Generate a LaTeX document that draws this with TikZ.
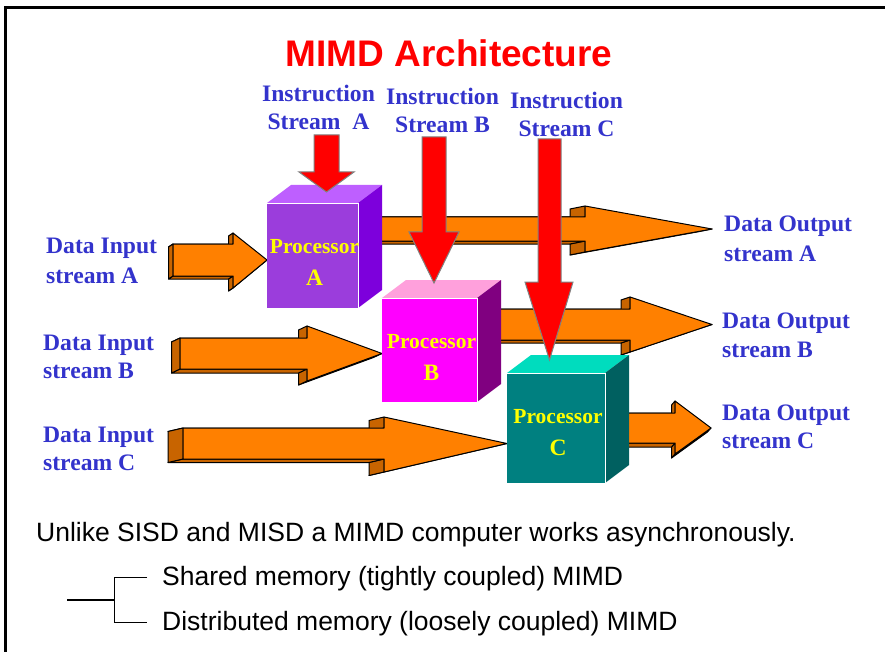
\documentclass[tikz,border=0pt]{standalone}
\usepackage{fontspec}
\setmainfont{Liberation Serif}
\newfontfamily\arialfont{Liberation Sans}
\usetikzlibrary{calc}

\definecolor{lblblue}{HTML}{3333CC}
\definecolor{arrorange}{HTML}{FF8000}
\definecolor{arrshade}{HTML}{C86400}
\definecolor{instrred}{HTML}{FF0000}
\definecolor{instredge}{HTML}{808080}
\definecolor{procyellow}{HTML}{FFFF00}
% cube colours: front / top / side
\definecolor{Afront}{HTML}{9B3DDC}
\definecolor{Atop}{HTML}{BE5FFF}
\definecolor{Aside}{HTML}{7D00DC}
\definecolor{Bfront}{HTML}{FF00FF}
\definecolor{Btop}{HTML}{FFA0DC}
\definecolor{Bside}{HTML}{800080}
\definecolor{Cfront}{HTML}{008080}
\definecolor{Ctop}{HTML}{00DCBE}
\definecolor{Cside}{HTML}{006060}

% 3-D block arrow: #1 left x, #2 shaft top, #3 shaft bottom, #4 head base x,
% #5 head top, #6 head bottom, #7 tip, #8 extrusion offset
\newcommand{\blockarr}[8]{%
  \coordinate (p1) at (#1,#2);
  \coordinate (p2) at (#4,#2);
  \coordinate (p3) at (#4,#5);
  \coordinate (p4) at #7;
  \coordinate (p5) at (#4,#6);
  \coordinate (p6) at (#4,#3);
  \coordinate (p7) at (#1,#3);
  \foreach \a/\b in {1/2,4/5,5/6,6/7,2/3,7/1}{
    \filldraw[arrside] (p\a) -- (p\b) -- ($(p\b)+(#8)$) -- ($(p\a)+(#8)$) -- cycle;}
  \filldraw[arrfront] (p1) -- (p2) -- (p3) -- (p4) -- (p5) -- (p6) -- (p7) -- cycle;
}

% processor cube: #1 name, #2 #3 front top-left, #4 #5 front bottom-right, #6 colour key, #7 letter
\newcommand{\procbox}[7]{%
  \fill[#6top] (#2,#3) -- ++(24,-18) -- (#4+24,#3-18) -- (#4,#3) -- cycle;
  \fill[#6side] (#4,#3) -- (#4+24,#3-18) -- (#4+24,#5-18) -- (#4,#5) -- cycle;
  \fill[#6front] (#2,#3) rectangle (#4,#5);
  \draw[white, line width=0.9] (#2,#3) -- (#4,#3) -- (#4,#5);
  \node[proclbl] (#1a) at ({(#2+#4)/2+2},{#3+50}) {Processor};
  \node[proclbl, font=\fontsize{23.5}{27}\selectfont\bfseries] (#1b) at ({(#2+#4)/2+2},{#3+82}) {#7};
}

% red instruction arrow: #1 shaft left, #2 shaft right, #3 shaft top,
% #4 head top, #5 head left, #6 head right, #7 tip
\newcommand{\instrarr}[7]{%
  \filldraw[instr] (#1,#3) -- (#2,#3) -- (#2,#4) -- (#6,#4) -- #7 -- (#5,#4) -- (#1,#4) -- cycle;
}

\begin{document}
\begin{tikzpicture}[x=1pt,y=-1pt,
  lbl/.style={text=lblblue, font=\fontsize{23.6}{28}\selectfont\bfseries, inner sep=0pt},
  proclbl/.style={text=procyellow, font=\fontsize{21.5}{25}\selectfont\bfseries, inner sep=0pt, anchor=base},
  bodytext/.style={font=\arialfont\fontsize{26.5}{30}\selectfont, inner sep=0pt, anchor=base west},
  arrfront/.style={fill=arrorange, draw=black, line width=1pt, line join=round},
  arrside/.style={fill=arrshade, draw=black, line width=1pt, line join=round},
  instr/.style={fill=instrred, draw=instredge, line width=1pt, line join=miter}]

\useasboundingbox (0,0) rectangle (885,652);
\fill[white] (0,0) rectangle (885,652);

% slide frame
\draw[line width=3pt] (5.5,652) -- (5.5,8) -- (885,8);

% title
\node[text=red, font=\arialfont\bfseries\fontsize{37}{40}\selectfont, inner sep=0pt, anchor=base]
  (title) at (449,67) {MIMD Architecture};

% instruction stream labels
\node[lbl, anchor=base] (isA1) at (318.5,102) {Instruction};
\node[lbl, anchor=base] (isA2) at (318.5,130) {Stream\ \ A};
\node[lbl, anchor=base] (isB1) at (442.5,105) {Instruction};
\node[lbl, anchor=base] (isB2) at (442.5,133) {Stream B};
\node[lbl, anchor=base] (isC1) at (566.5,109) {Instruction};
\node[lbl, anchor=base] (isC2) at (566.5,137) {Stream C};

% data input labels
\node[lbl, anchor=base west] (diA1) at (46,254) {Data Input};
\node[lbl, anchor=base west] (diA2) at (46,283) {stream A};
\node[lbl, anchor=base west] (diB1) at (43,350) {Data Input};
\node[lbl, anchor=base west] (diB2) at (43,378) {stream B};
\node[lbl, anchor=base west] (diC1) at (43,442) {Data Input};
\node[lbl, anchor=base west] (diC2) at (43,470) {stream C};

% data output labels
\node[lbl, anchor=base west] (doA1) at (724,232) {Data Output};
\node[lbl, anchor=base west] (doA2) at (724,261) {stream A};
\node[lbl, anchor=base west] (doB1) at (722,328) {Data Output};
\node[lbl, anchor=base west] (doB2) at (722,357) {stream B};
\node[lbl, anchor=base west] (doC1) at (722,420) {Data Output};
\node[lbl, anchor=base west] (doC2) at (722,448) {stream C};

% output data streams (behind the processors)
\blockarr{372}{217}{241}{585}{206}{252}{(712,229)}{-15,3}
\blockarr{490}{309}{340}{630}{297}{352}{(712,324.5)}{-9,3}
\blockarr{615}{413}{443}{675}{401}{454}{(711,428)}{-3.5,4}

% input data streams
\blockarr{173}{244}{276}{233}{233}{288}{(267,260)}{-4.5,3}
\blockarr{180}{338}{369}{307}{326}{381}{(382,353.5)}{-8.5,4}
\blockarr{183}{428}{459}{384}{417}{472}{(507,443.5)}{-15,3.5}

% processors
\procbox{procA}{267}{203}{358}{308}{A}{A}
\procbox{procB}{382}{298}{477}{402}{B}{B}
\procbox{procC}{507}{373}{605}{483}{C}{C}

% instruction streams
\instrarr{314}{339}{135}{172}{299}{354}{(326.5,192)}
\instrarr{422}{446}{137}{232}{409}{459}{(434,283)}
\instrarr{538}{561}{139}{282}{525}{573}{(549.5,360)}

% text below
\node[bodytext] (note) at (36,541) {Unlike SISD and MISD a MIMD computer works asynchronously.};
\node[bodytext] (shm) at (162,585) {Shared memory (tightly coupled) MIMD};
\node[bodytext] (dsm) at (162,630) {Distributed memory (loosely coupled) MIMD};

% classification bracket
\coordinate (brL) at (67,600);
\coordinate (brJ) at (114,600);
\coordinate (brT) at (114,577);
\coordinate (brB) at (114,622);
\draw[line width=2pt] (brL) -- (brJ);
\draw[line width=1pt] ($(brT)+(33,0)$) -- (brT) -- (brB) -- ($(brB)+(33,0)$);

\end{tikzpicture}
\end{document}
